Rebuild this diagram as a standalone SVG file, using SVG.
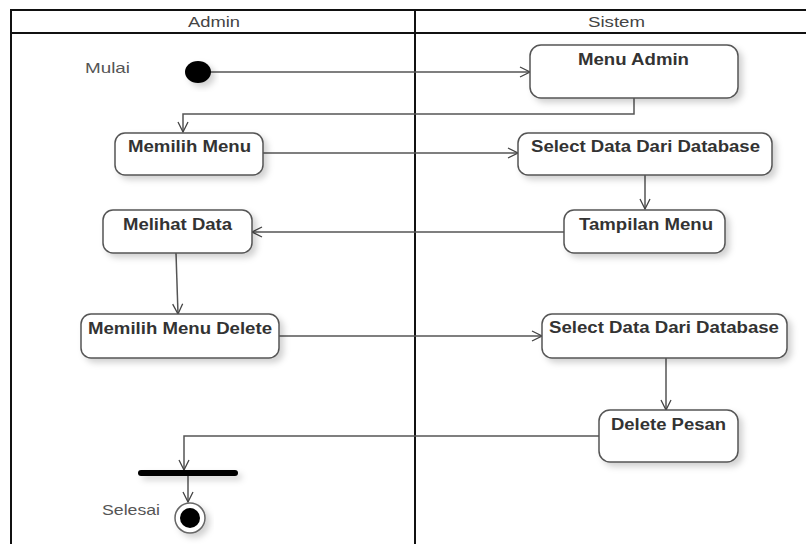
<svg xmlns="http://www.w3.org/2000/svg" width="806" height="544" viewBox="0 0 806 544">
<defs>
<filter id="sh" x="-20%" y="-20%" width="150%" height="160%">
<feDropShadow dx="4" dy="4" stdDeviation="3" flood-color="#000" flood-opacity="0.18"/>
</filter>
<filter id="shb" x="-20%" y="-150%" width="150%" height="500%">
<feDropShadow dx="4" dy="4" stdDeviation="3" flood-color="#000" flood-opacity="0.18"/>
</filter>
<marker id="arr" viewBox="0 0 12 12" refX="11" refY="6" markerWidth="12" markerHeight="12" markerUnits="userSpaceOnUse" orient="auto">
<path d="M1,1 L11,6 L1,11" fill="none" stroke="#444" stroke-width="1.3"/>
</marker>
<style>
.frame{fill:none;stroke:#111;stroke-width:2}
.hdr{font-family:"Liberation Sans",Arial,sans-serif;font-size:14px;fill:#444}
.lbl{font-family:"Liberation Sans",Arial,sans-serif;font-size:15px;fill:#555}
.box{fill:#fff;stroke:#555;stroke-width:1.5;filter:url(#sh)}
.t{font-family:"Liberation Sans",Arial,sans-serif;font-size:16px;font-weight:bold;fill:#333;text-anchor:start}
.c{fill:none;stroke:#555;stroke-width:1.5;marker-end:url(#arr)}
</style>
</defs>
<rect width="806" height="544" fill="#fff"/>
<g id="swimlanes">
<path class="frame" d="M11,545 V10 H807"/>
<path class="frame" d="M11,33 H807"/>
<path class="frame" d="M415,10 V545"/>
<text class="hdr" x="188" y="27" textLength="52" lengthAdjust="spacingAndGlyphs">Admin</text>
<text class="hdr" x="588" y="27" textLength="57" lengthAdjust="spacingAndGlyphs">Sistem</text>
</g>
<g id="connectors">
<path class="c" d="M210,72 H530"/>
<path class="c" d="M634,98 V114 H183 V132"/>
<path class="c" d="M263,153 H518"/>
<path class="c" d="M645,175 V209"/>
<path class="c" d="M564,232 H252"/>
<path class="c" d="M176,253 L178,314"/>
<path class="c" d="M279,336 H542"/>
<path class="c" d="M666,358 V410"/>
<path class="c" d="M599,436 H184 V470"/>
<path class="c" d="M188,476 V502"/>
</g>
<g id="start">
<ellipse cx="198" cy="72" rx="13" ry="11" fill="#000" filter="url(#sh)"/>
<text class="lbl" x="85" y="73" textLength="45" lengthAdjust="spacingAndGlyphs">Mulai</text>
</g>
<g id="menu-admin">
<rect class="box" x="530" y="45" width="208" height="53" rx="11"/>
<text class="t" x="578" y="65" textLength="111" lengthAdjust="spacingAndGlyphs">Menu Admin</text>
</g>
<g id="memilih-menu">
<rect class="box" x="115" y="133" width="148" height="42" rx="10"/>
<text class="t" x="128" y="152" textLength="123" lengthAdjust="spacingAndGlyphs">Memilih Menu</text>
</g>
<g id="select-data-1">
<rect class="box" x="518" y="133" width="254" height="42" rx="10"/>
<text class="t" x="531" y="152" textLength="229" lengthAdjust="spacingAndGlyphs">Select Data Dari Database</text>
</g>
<g id="tampilan-menu">
<rect class="box" x="564" y="210" width="161" height="43" rx="10"/>
<text class="t" x="579" y="230" textLength="134" lengthAdjust="spacingAndGlyphs">Tampilan Menu</text>
</g>
<g id="melihat-data">
<rect class="box" x="103" y="210" width="149" height="43" rx="10"/>
<text class="t" x="123" y="230" textLength="109" lengthAdjust="spacingAndGlyphs">Melihat Data</text>
</g>
<g id="memilih-menu-delete">
<rect class="box" x="81" y="314" width="198" height="44" rx="10"/>
<text class="t" x="88" y="334" textLength="184" lengthAdjust="spacingAndGlyphs">Memilih Menu Delete</text>
</g>
<g id="select-data-2">
<rect class="box" x="542" y="314" width="245" height="44" rx="10"/>
<text class="t" x="549" y="333" textLength="230" lengthAdjust="spacingAndGlyphs">Select Data Dari Database</text>
</g>
<g id="delete-pesan">
<rect class="box" x="599" y="410" width="139" height="52" rx="11"/>
<text class="t" x="611" y="430" textLength="115" lengthAdjust="spacingAndGlyphs">Delete Pesan</text>
</g>
<g id="join-bar">
<rect x="138" y="470" width="100" height="6" rx="3" fill="#000" filter="url(#shb)"/>
</g>
<g id="end">
<circle cx="190" cy="518" r="15" fill="#fff" stroke="#666" stroke-width="1.5" filter="url(#sh)"/>
<circle cx="190" cy="518" r="10" fill="#000"/>
<text class="lbl" x="102" y="515" textLength="58" lengthAdjust="spacingAndGlyphs">Selesai</text>
</g>
</svg>
